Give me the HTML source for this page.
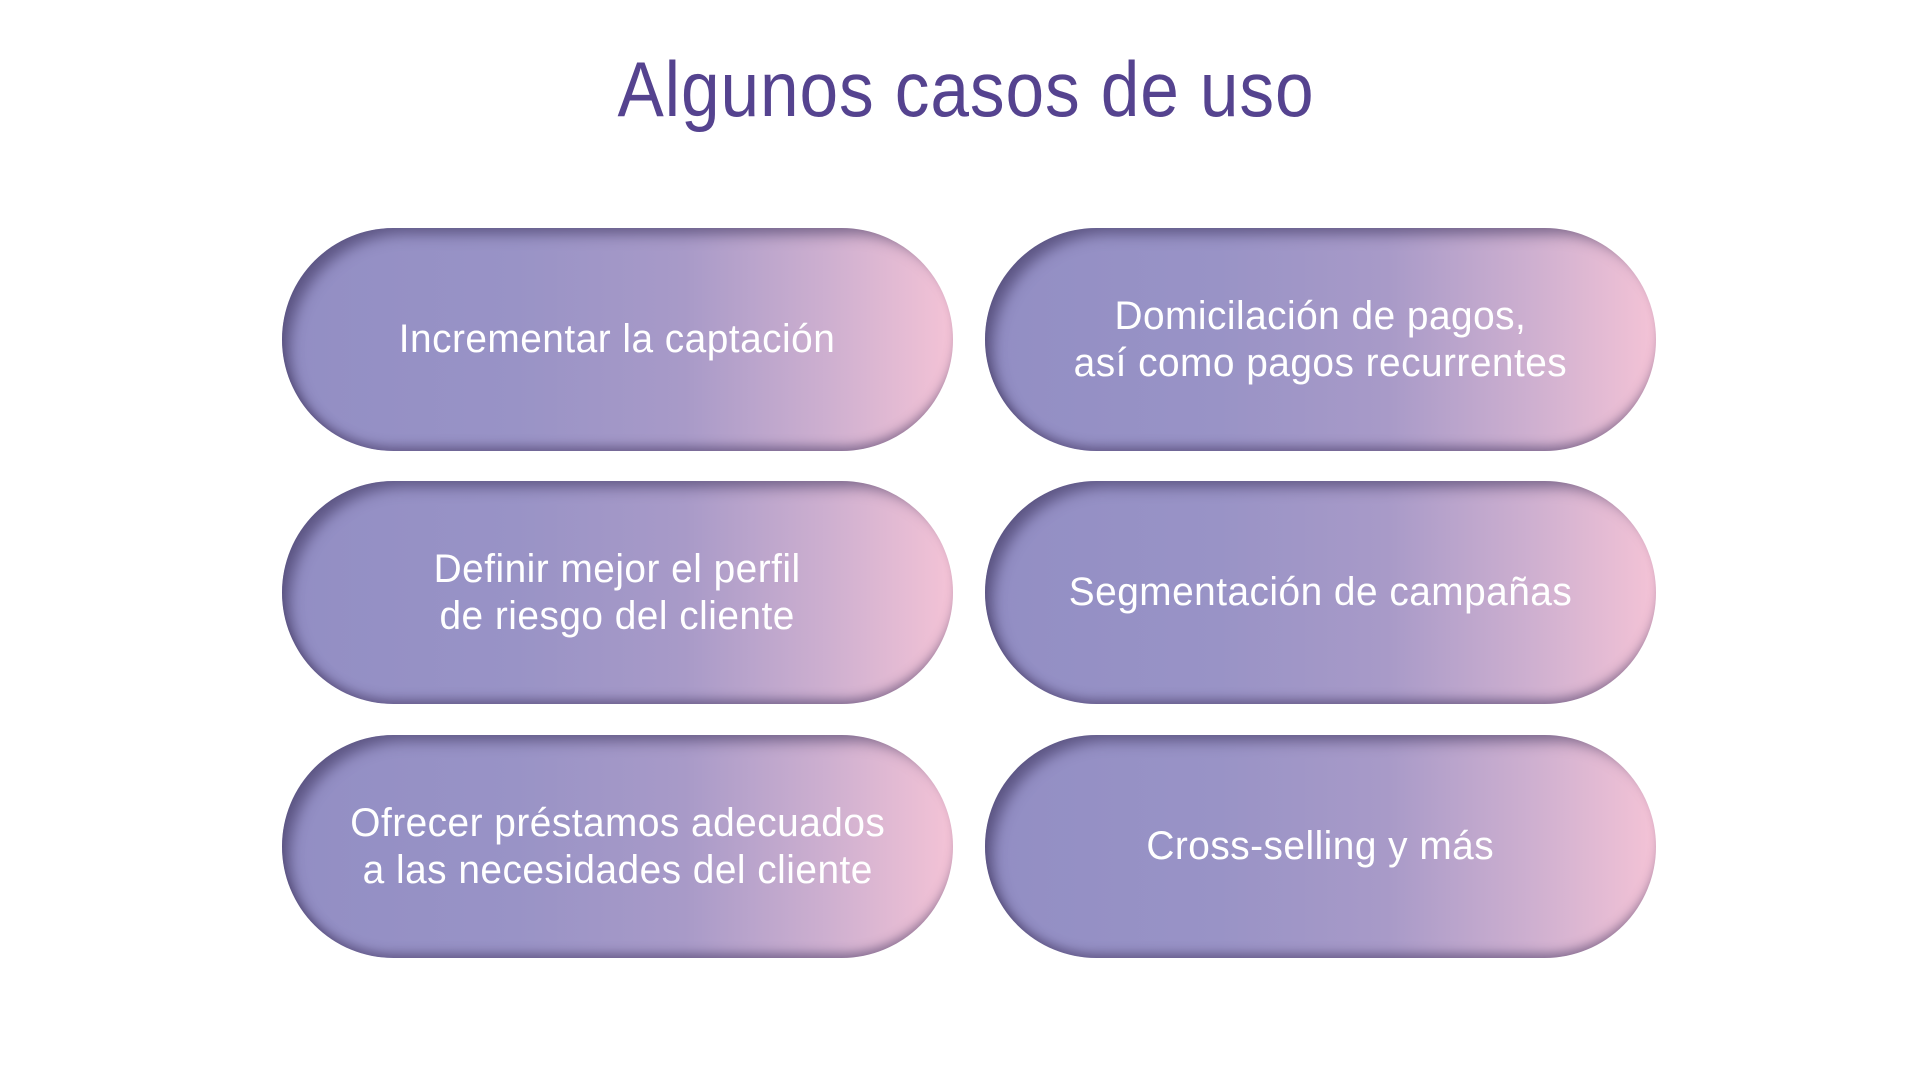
<!DOCTYPE html>
<html><head><meta charset="utf-8"><style>
body{margin:0;width:1920px;height:1080px;background:#fff;position:relative;overflow:hidden;font-family:"Liberation Sans",sans-serif;}
h1{position:absolute;left:0;width:1932px;top:44px;margin:0;text-align:center;font-weight:normal;font-size:78px;color:#55438f;letter-spacing:1px;transform:scaleX(0.89);}
.p{position:absolute;width:671px;height:223px;border-radius:112px;
background:linear-gradient(90deg,#928ec4 0%,#9993c6 35%,#a89ac8 60%,#cfb0d0 82%,#f4c3d6 100%);
box-shadow:inset 12px 10px 14px -4px rgba(50,40,80,.55),inset 0 -9px 10px -4px rgba(60,45,90,.5);
display:flex;align-items:center;justify-content:center;text-align:center;color:#fff;font-size:40px;line-height:47px;letter-spacing:.5px;}
.p span{display:inline-block;transform:scaleX(0.97);white-space:nowrap;}
</style></head><body>
<h1>Algunos casos de uso</h1>
<div class="p" style="left:282px;top:228px"><span>Incrementar la captación</span></div>
<div class="p" style="left:985px;top:228px"><span>Domicilación de pagos,<br>así como pagos recurrentes</span></div>
<div class="p" style="left:282px;top:481px"><span>Definir mejor el perfil<br>de riesgo del cliente</span></div>
<div class="p" style="left:985px;top:481px"><span>Segmentación de campañas</span></div>
<div class="p" style="left:282px;top:735px"><span>Ofrecer préstamos adecuados<br>a las necesidades del cliente</span></div>
<div class="p" style="left:985px;top:735px"><span>Cross-selling y más</span></div>
</body></html>
